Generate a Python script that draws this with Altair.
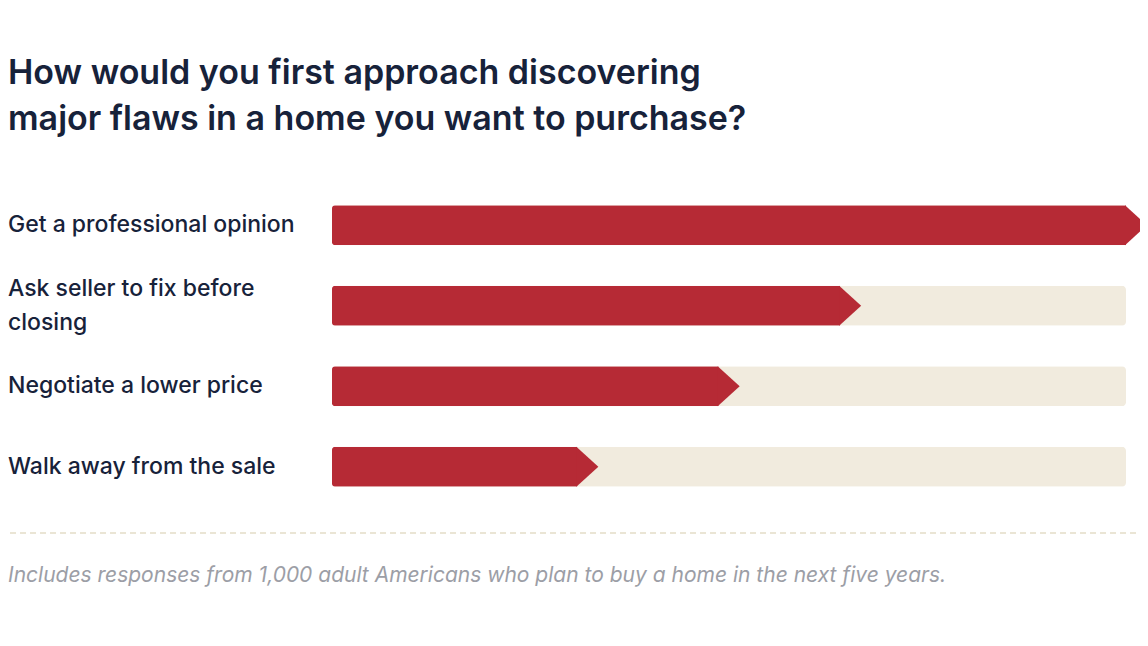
import pandas as pd
import altair as alt

# Data
labels = [
    "Get a professional opinion",
    "Ask seller to fix before closing",
    "Negotiate a lower price",
    "Walk away from the sale",
]
display = [
    "Get a professional opinion",
    "Ask seller to fix before\nclosing",
    "Negotiate a lower price",
    "Walk away from the sale",
]
# share relative to the top answer (%)
values = [100, 64, 48.7, 30.9]

title_lines = [
    "How would you first approach discovering",
    "major flaws in a home you want to purchase?",
]
note = "Includes responses from 1,000 adult Americans who plan to buy a home in the next five years."

RED = "#b62a35"
TRACK = "#f1ebde"
NAVY = "#17223a"
GREY = "#9c9ea6"

df = pd.DataFrame({"label": labels, "display": display, "value": values})

x_scale = alt.Scale(domain=[0, 100], range=[324, 1118])
y_scale = alt.Scale(domain=labels, range=[177, 499], paddingInner=0, paddingOuter=0)

base = alt.Chart(df).encode(
    y=alt.Y("label:N", scale=y_scale, axis=None, sort=labels)
)

track = base.transform_calculate(full="100").mark_bar(
    color=TRACK, size=40, cornerRadius=4
).encode(x=alt.X("full:Q", scale=x_scale, axis=None))

bars = base.mark_bar(
    color=RED, size=40, cornerRadiusTopLeft=3, cornerRadiusBottomLeft=3
).encode(x=alt.X("value:Q", scale=x_scale, axis=None))

# arrow head at the end of each red bar
tips = base.mark_point(
    shape="M-0.05,-1L1.05,0L-0.05,1Z", filled=True, size=1600,
    color=RED, opacity=1, strokeWidth=0
).encode(x=alt.X("value:Q", scale=x_scale, axis=None))

label_style = dict(align="left", baseline="middle", fontSize=23, font="Inter",
                   fontWeight=500, color=NAVY, lineBreak="\n", lineHeight=34)

names_single = base.transform_filter(
    "indexof(datum.display, '\\n') < 0"
).mark_text(**label_style).encode(x=alt.value(0), text="display:N")

names_multi = base.transform_filter(
    "indexof(datum.display, '\\n') >= 0"
).mark_text(dy=-17, **label_style).encode(x=alt.value(0), text="display:N")

title = alt.Chart(pd.DataFrame({"t": ["\n".join(title_lines)]})).mark_text(
    align="left", baseline="middle", fontSize=34, font="Inter",
    fontWeight=600, color=NAVY, lineBreak="\n", lineHeight=46
).encode(x=alt.value(0), y=alt.value(66), text="t:N")

divider = alt.Chart(pd.DataFrame({"d": [0]})).mark_rule(
    color="#e4ddc8", strokeDash=[6, 4], strokeWidth=1.5
).encode(x=alt.value(-8), x2=alt.value(1140), y=alt.value(525))

footnote = alt.Chart(pd.DataFrame({"t": [note]})).mark_text(
    align="left", baseline="middle", fontSize=21, font="Inter",
    fontStyle="italic", color=GREY
).encode(x=alt.value(0), y=alt.value(568), text="t:N")

chart = (track + bars + tips + names_single + names_multi + title + divider + footnote).properties(
    width=1132, height=628, padding=0,
    autosize=alt.AutoSizeParams(type="none"),
    background="white"
).configure_view(stroke=None)

chart.save("out.html", embed_options={"renderer": "svg", "actions": False})
